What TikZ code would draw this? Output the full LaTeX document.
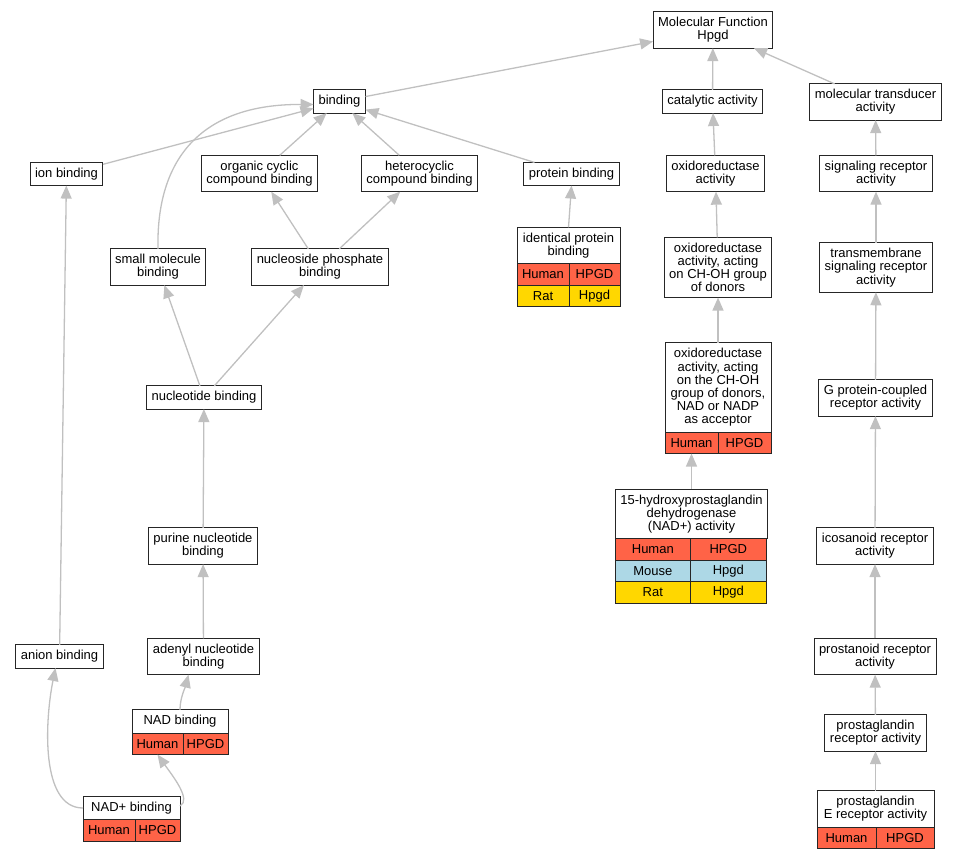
\documentclass[tikz,border=0pt]{standalone}
\usepackage{fontspec}
\setmainfont{Liberation Sans}
\usetikzlibrary{positioning,arrows.meta}
\definecolor{human}{RGB}{255,99,71}
\definecolor{mouse}{RGB}{173,216,230}
\definecolor{rat}{RGB}{255,215,0}
\definecolor{edgegray}{RGB}{192,192,192}
\tikzset{term node/.style={rectangle,draw=black!85,fill=white,line width=1pt,outer sep=0pt,align=center,inner xsep=5pt,inner ysep=5.5pt,font=\fontsize{13}{13.2}\selectfont},
cell node/.style={rectangle,draw=black!85,line width=1pt,outer sep=0pt,inner sep=0pt,minimum height=21.5pt,font=\fontsize{13}{13.2}\selectfont},
isa edge/.style={draw=edgegray,line width=1.3pt,-{Triangle[length=13pt,width=11pt]}}}

\begin{document}
\begin{tikzpicture}[x=1pt,y=-1pt]
            \useasboundingbox (0,0) rectangle (957,859);
            \node[term node] (mf) at (713,30) {Molecular Function\\Hpgd};
            \node[term node] (bind) at (339.5,101.5) {binding};
            \node[term node] (cat) at (712.5,101.5) {catalytic activity};
            \node[term node] (mtrans) at (875.5,102) {molecular transducer\\activity};
            \node[term node] (ion) at (66.5,174) {ion binding};
            \node[term node] (occ) at (259.5,173.5) {organic cyclic\\compound binding};
            \node[term node] (hcc) at (419.5,173.5) {heterocyclic\\compound binding};
            \node[term node] (prot) at (571.5,174) {protein binding};
            \node[term node] (oxr) at (715.5,173.5) {oxidoreductase\\activity};
            \node[term node] (sig) at (876,173.5) {signaling receptor\\activity};
            \node[term node] (smb) at (158,267) {small molecule\\binding};
            \node[term node] (nsp) at (320,267) {nucleoside phosphate\\binding};
            \node[term node] (chd) at (718,267.5) {oxidoreductase\\activity, acting\\on CH-OH group\\of donors};
            \node[term node] (tms) at (876,267.5) {transmembrane\\signaling receptor\\activity};
            \node[term node] (nucb) at (204,397.5) {nucleotide binding};
            \node[term node] (gpcr) at (875.5,398) {G protein-coupled\\receptor activity};
            \node[term node] (pur) at (203,546) {purine nucleotide\\binding};
            \node[term node] (ico) at (875,546) {icosanoid receptor\\activity};
            \node[term node] (anion) at (59.5,656.5) {anion binding};
            \node[term node] (adn) at (203.5,656.5) {adenyl nucleotide\\binding};
            \node[term node] (prn) at (875,656.5) {prostanoid receptor\\activity};
            \node[term node] (pgr) at (875.5,733) {prostaglandin\\receptor activity};

            \node[term node, minimum width=103pt] (ipb) at (568.5,245.5) {identical protein\\binding};
            \node[cell node, fill=human, minimum width=52pt] (ipb-h) [below right=0pt of ipb.south west] {Human};
            \node[cell node, fill=human, minimum width=51pt] (ipb-hg) [right=0pt of ipb-h] {HPGD};
            \node[cell node, fill=rat, minimum width=52pt] (ipb-r) [below=0pt of ipb-h] {Rat};
            \node[cell node, fill=rat, minimum width=51pt] (ipb-rg) [right=0pt of ipb-r] {Hpgd};

            \node[term node, minimum width=106pt] (nadp) at (718,387.5) {oxidoreductase\\activity, acting\\on the CH-OH\\group of donors,\\NAD or NADP\\as acceptor};
            \node[cell node, fill=human, minimum width=53pt] (nadp-h) [below right=0pt of nadp.south west] {Human};
            \node[cell node, fill=human, minimum width=53pt] (nadp-hg) [right=0pt of nadp-h] {HPGD};

            \node[term node, minimum width=151pt] (hpgd) at (691.5,514) {15-hydroxyprostaglandin\\dehydrogenase\\(NAD+) activity};
            \node[cell node, fill=human, minimum width=75pt] (hpgd-h) [below right=0pt of hpgd.south west] {Human};
            \node[cell node, fill=human, minimum width=76pt] (hpgd-hg) [right=0pt of hpgd-h] {HPGD};
            \node[cell node, fill=mouse, minimum width=75pt] (hpgd-m) [below=0pt of hpgd-h] {Mouse};
            \node[cell node, fill=mouse, minimum width=76pt] (hpgd-mg) [right=0pt of hpgd-m] {Hpgd};
            \node[cell node, fill=rat, minimum width=75pt] (hpgd-r) [below=0pt of hpgd-m] {Rat};
            \node[cell node, fill=rat, minimum width=76pt] (hpgd-rg) [right=0pt of hpgd-r] {Hpgd};

            \node[term node, minimum width=96pt] (nad) at (180,721.5) {NAD binding};
            \node[cell node, fill=human, minimum width=51pt] (nad-h) [below right=0pt of nad.south west] {Human};
            \node[cell node, fill=human, minimum width=45pt] (nad-hg) [right=0pt of nad-h] {HPGD};

            \node[term node, minimum width=97pt] (nadplus) at (131.5,808) {NAD+ binding};
            \node[cell node, fill=human, minimum width=52pt] (nadplus-h) [below right=0pt of nadplus.south west] {Human};
            \node[cell node, fill=human, minimum width=45pt] (nadplus-hg) [right=0pt of nadplus-h] {HPGD};

            \node[term node, minimum width=117pt] (pge) at (875.5,809) {prostaglandin\\E receptor activity};
            \node[cell node, fill=human, minimum width=59pt] (pge-h) [below right=0pt of pge.south west] {Human};
            \node[cell node, fill=human, minimum width=58pt] (pge-hg) [right=0pt of pge-h] {HPGD};

            \foreach \from/\to in {bind/mf, cat/mf, mtrans/mf, ion/bind, occ/bind, hcc/bind, prot/bind,
                oxr/cat, sig/mtrans, nsp/occ, nsp/hcc, ipb.north/prot.south, chd/oxr, tms/sig,
                nucb/smb, nucb/nsp, nadp.north/chd.south, gpcr/tms, hpgd.north/nadp-h.south,
                pur/nucb, ico/gpcr, adn/pur, prn/ico, anion/ion, pgr/prn, pge.north/pgr.south}
                \draw[isa edge] (\from) -- (\to);

            \draw[isa edge] (smb.north) .. controls (156,160) and (200,104) .. ([yshift=-3pt]bind.west);
            \draw[isa edge] (nad.north) .. controls (180,698) and (185,688) .. ([xshift=-15pt]adn.south);
            \draw[isa edge] (nadplus.west) .. controls (40,808) and (45,720) .. ([xshift=-4pt]anion.south);
            \draw[isa edge] ([yshift=2pt]nadplus.east) .. controls (192,800) and (172,775) .. (nad-h.south);
        \end{tikzpicture}
\end{document}
